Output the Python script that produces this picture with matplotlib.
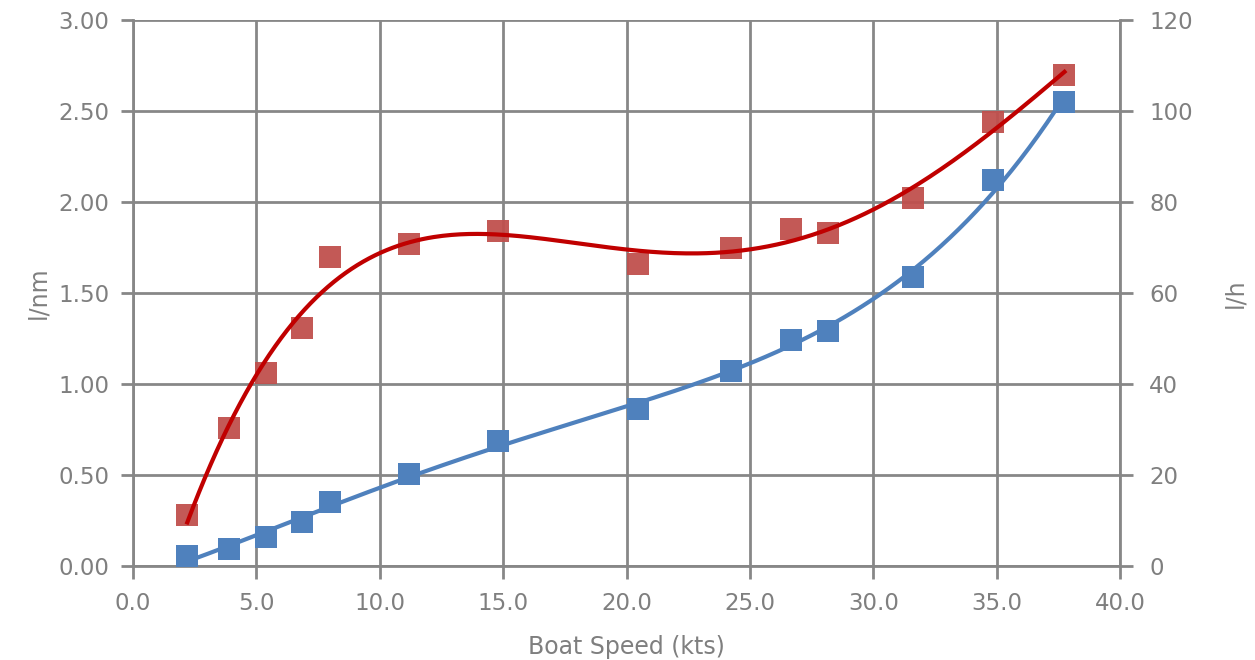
import numpy as np
import matplotlib.pyplot as plt

# boat speed (kts)
speed = [2.2, 3.9, 5.4, 6.85, 8.0, 11.2, 14.8, 20.45, 24.25, 26.65, 28.15, 31.6, 34.85, 37.75]
# consumption per nautical mile (left axis)
l_nm = [0.28, 0.76, 1.06, 1.31, 1.70, 1.77, 1.84, 1.66, 1.75, 1.85, 1.83, 2.02, 2.44, 2.70]
# consumption per hour (right axis)
l_h = [2.3, 3.7, 6.4, 9.6, 14.0, 20.3, 27.5, 34.5, 42.9, 49.6, 51.6, 63.6, 84.8, 102.0]

xticks = np.arange(0, 40.1, 5)
yticks_left = np.arange(0, 3.01, 0.5)
yticks_right = np.arange(0, 121, 20)

grid_col = '#878787'
text_col = '#7f7f7f'

fig = plt.figure(figsize=(12.55, 6.6), dpi=100)
ax = fig.add_axes([133 / 1255, 1 - 566 / 660, (1120 - 133) / 1255, (566 - 20) / 660])
ax2 = ax.twinx()

# polynomial trend lines, like the spreadsheet ones
xs = np.linspace(min(speed), max(speed), 300)
red_fit = np.polyval(np.polyfit(speed, l_nm, 4), xs)
blue_fit = np.polyval(np.polyfit(speed, l_h, 4), xs)

ax.scatter(speed, l_nm, marker='s', s=270, color='#c0504d', alpha=0.95, zorder=3, linewidths=0)
ax.plot(xs, red_fit, color='#c00000', lw=3, zorder=4)
ax2.scatter(speed, l_h, marker='s', s=270, color='#4f81bd', zorder=3, linewidths=0)
ax2.plot(xs, blue_fit, color='#4f81bd', lw=3, zorder=4)

ax.set_xlim(0, 40)
ax.set_ylim(0, 3)
ax2.set_ylim(0, 120)
ax.set_xticks(xticks)
ax.set_yticks(yticks_left)
ax2.set_yticks(yticks_right)
ax.set_xticklabels([f'{v:.1f}' for v in xticks])
ax.set_yticklabels([f'{v:.2f}' for v in yticks_left])
ax2.set_yticklabels([f'{int(v)}' for v in yticks_right])

ax.grid(True, color=grid_col, lw=2)
ax.set_axisbelow(True)
for a in (ax, ax2):
    for s in a.spines.values():
        s.set_visible(False)
    a.tick_params(colors=grid_col, labelcolor=text_col, labelsize=16.5, width=2, length=9)
for side in ('left', 'bottom'):
    ax.spines[side].set_visible(True)
    ax.spines[side].set_color(grid_col)
    ax.spines[side].set_linewidth(2)
ax2.spines['right'].set_visible(True)
ax2.spines['right'].set_color(grid_col)
ax2.spines['right'].set_linewidth(2)
ax.tick_params(axis='x', pad=10)
ax.tick_params(axis='y', pad=8)
ax2.tick_params(axis='y', pad=12)

ax.set_xlabel('Boat Speed (kts)', color=text_col, fontsize=17, labelpad=14)
ax.set_ylabel('l/nm', color=text_col, fontsize=17, labelpad=6)
ax2.set_ylabel('l/h', color=text_col, fontsize=17, labelpad=22)

fig.savefig('out.png', dpi=100)
